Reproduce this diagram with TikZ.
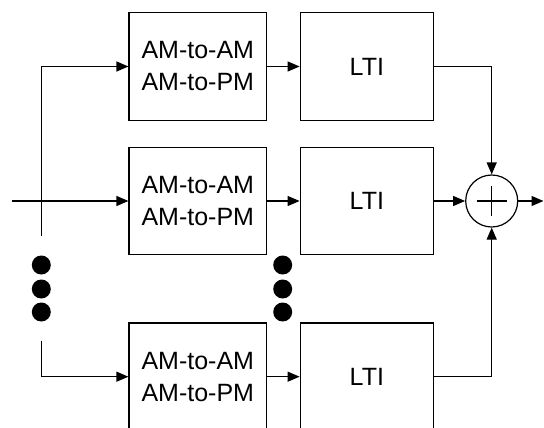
\documentclass[tikz,border=0pt]{standalone}
\usepackage{fontspec}
\setmainfont{Liberation Sans}
\usetikzlibrary{positioning,arrows.meta}

\begin{document}
\begin{tikzpicture}[
        x=1pt, y=-1pt,
        line width=1.2pt,
        blk/.style={draw, minimum width=137.5pt, minimum height=107.5pt,
                    align=center, inner sep=0pt, font=\fontsize{25}{32}\selectfont},
        ltiblk/.style={blk, minimum width=133.3pt},
        sig/.style={-{Triangle[length=12pt,width=10pt]}},
        bigdot/.style={circle, fill, inner sep=0pt, minimum size=19pt},
    ]
        \useasboundingbox (0,0) rectangle (544,428);

        % three branches
        \node[blk] (amA) at (197.75,66.5) {AM-to-AM\\AM-to-PM};
        \node[blk] (amB) at (197.75,201) {AM-to-AM\\AM-to-PM};
        \node[blk] (amC) at (197.75,376.7) {AM-to-AM\\AM-to-PM};
        \node[ltiblk, right=32.5pt of amA] (ltiA) {LTI};
        \node[ltiblk, right=32.5pt of amB] (ltiB) {LTI};
        \node[ltiblk, right=32.5pt of amC] (ltiC) {LTI};

        \node[draw, circle, minimum size=52pt, inner sep=0pt] (sum) at (491.7,201) {};
        \draw ([xshift=-15pt]sum.center) -- ([xshift=15pt]sum.center);
        \draw ([yshift=-15pt]sum.center) -- ([yshift=15pt]sum.center);

        \coordinate (in) at (11.7,201);
        \coordinate (brA) at (41.3,236);
        \coordinate (brC) at (41.3,340.7);
        \coordinate (out) at (543.5,201);

        \draw[sig] (in) -- (amB);
        \draw[sig] (brA) |- (amA.west);
        \draw[sig] (brC) |- (amC.west);
        \foreach \r in {A,B,C}
            \draw[sig] (am\r) -- (lti\r);

        \draw[sig] (ltiA.east) -| (sum.north);
        \draw[sig] (ltiB) -- (sum);
        \draw[sig] (ltiC.east) -| (sum.south);
        \draw[sig] (sum) -- (out);

        % dots
        \foreach \y [count=\i] in {265,289,312} {
            \node[bigdot] (dl\i) at (41.3,\y) {};
            \node[bigdot] (dm\i) at (282.7,\y) {};
        }
    \end{tikzpicture}
\end{document}
